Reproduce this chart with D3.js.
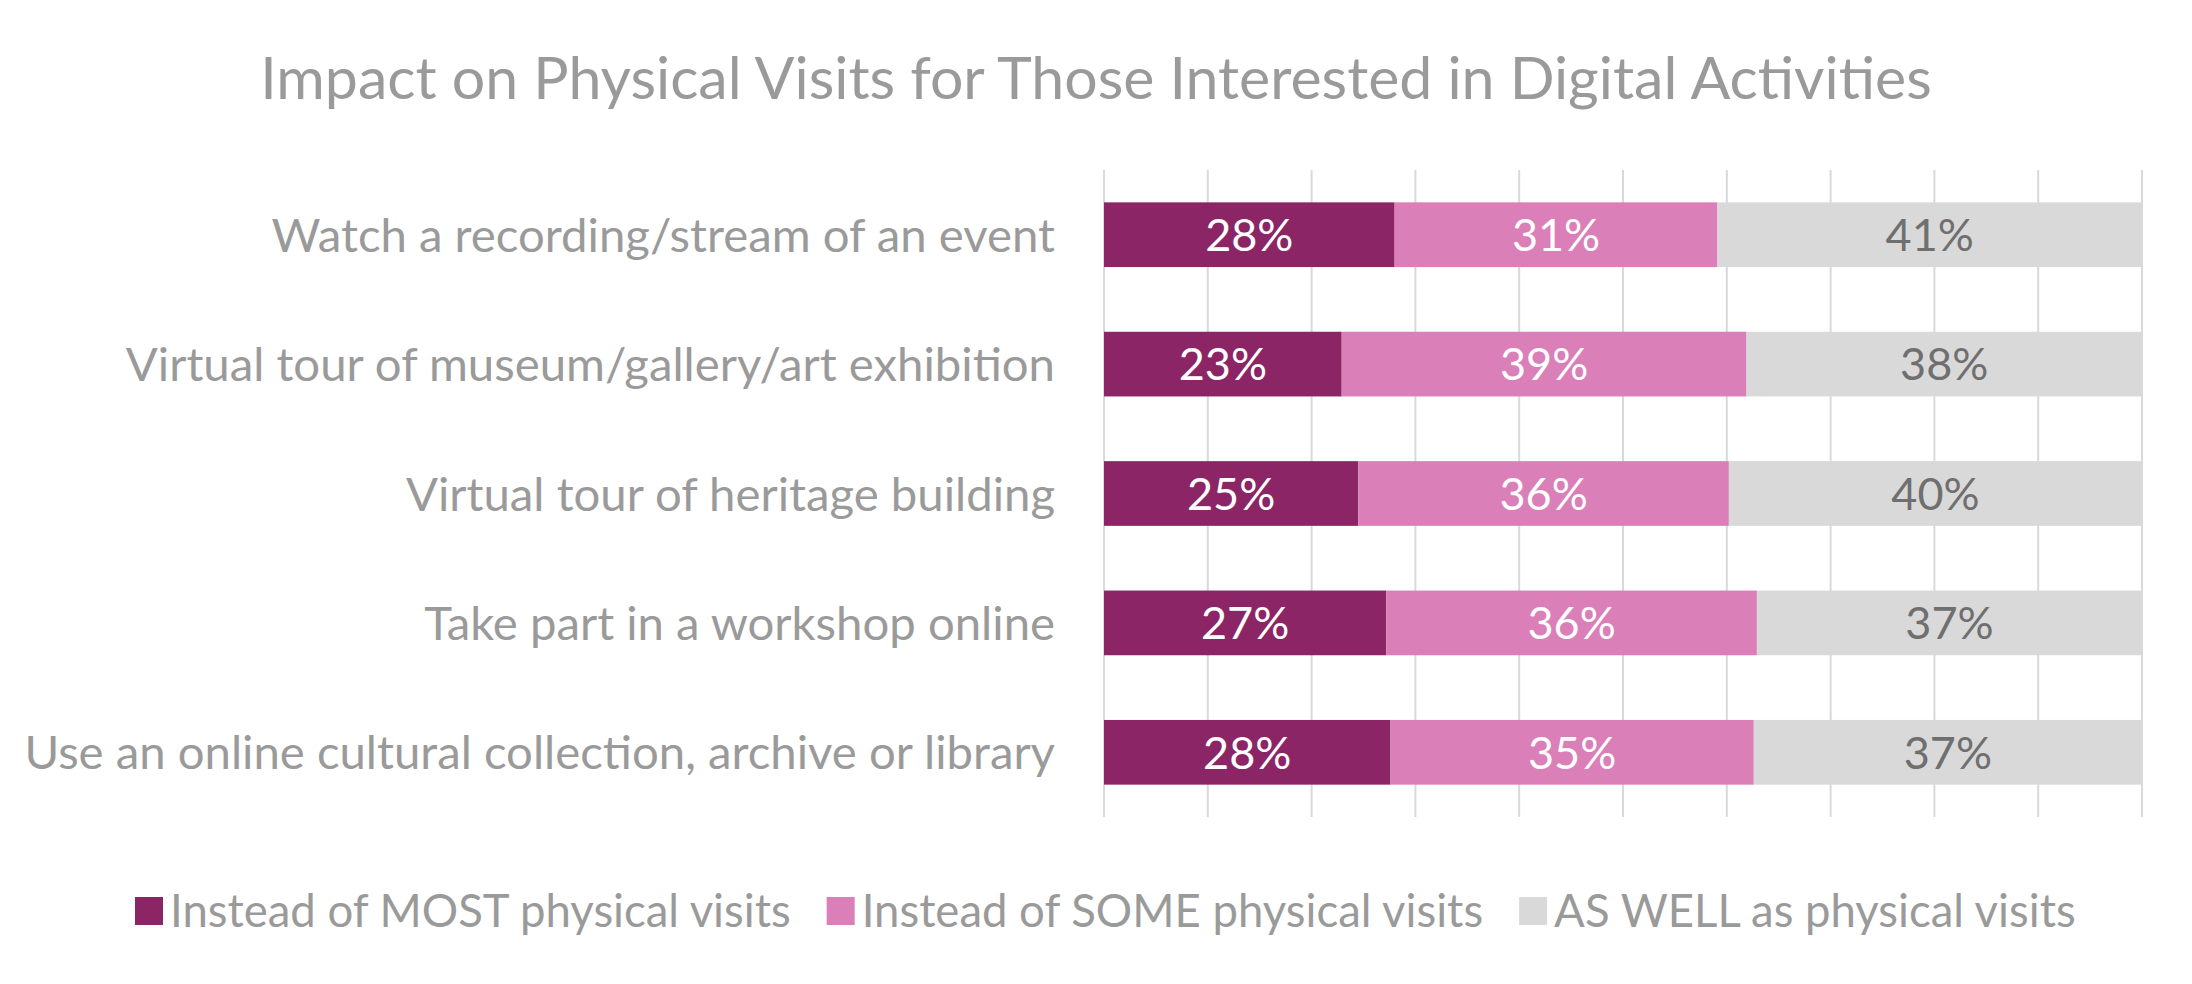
<!DOCTYPE html>
<html><head><meta charset="utf-8">
<script src="https://cdn.jsdelivr.net/npm/d3@7"></script>
<style>body{margin:0;background:#fff}svg text{font-family:Lato,"Open Sans",sans-serif}</style>
</head><body><svg id="c" width="2192" height="984"></svg>
<script>
const categories = [
  "Watch a recording/stream of an event",
  "Virtual tour of museum/gallery/art exhibition",
  "Virtual tour of heritage building",
  "Take part in a workshop online",
  "Use an online cultural collection, archive or library"
];
const seriesNames = ["Instead of MOST physical visits","Instead of SOME physical visits","AS WELL as physical visits"];
const mostValues = [28.0, 22.9, 24.5, 27.2, 27.6];
const someValues = [31.1, 39.0, 35.7, 35.7, 35.0];
const wellValues = [40.9, 38.1, 39.8, 37.1, 37.4];
const xTicks = [0,10,20,30,40,50,60,70,80,90,100];
const colors = ["#8B2565","#DA7FB8","#D9D9D9"];
const labelColors = ["#ffffff","#ffffff","#6f6f6f"];

(function(){
const svg = d3.select("#c");
const W = 2192;
const pLeft = 1104, pRight = 2142, pTop = 170, pBottom = 817;

const rows = categories.map((c,i)=>({cat:c, s0:mostValues[i], s1:someValues[i], s2:wellValues[i]}));
const stack = d3.stack().keys(["s0","s1","s2"]).offset(d3.stackOffsetExpand);
const series = stack(rows);

const x = d3.scaleLinear().domain([0,1]).range([pLeft,pRight]);
const y = d3.scaleBand().domain(categories).range([pTop,pBottom]).paddingInner(0.5).paddingOuter(0.25);

svg.append("text").attr("x", W/2).attr("y", 99).attr("text-anchor","middle")
  .attr("font-size", 59).attr("fill","#9a9a9a").text("Impact on Physical Visits for Those Interested in Digital Activities");

svg.append("g").selectAll("line").data(xTicks).join("line")
  .attr("x1", d=>x(d/100)).attr("x2", d=>x(d/100)).attr("y1", pTop).attr("y2", pBottom)
  .attr("stroke","#d9d9d9").attr("stroke-width",2);

const g = svg.append("g");
series.forEach((s,si)=>{
  g.append("g").selectAll("rect").data(s).join("rect")
    .attr("x", d=>x(d[0])).attr("width", d=>x(d[1])-x(d[0]))
    .attr("y", d=>y(d.data.cat)).attr("height", y.bandwidth())
    .attr("fill", colors[si]);
  const vals = [mostValues, someValues, wellValues][si];
  g.append("g").selectAll("text").data(s).join("text")
    .attr("x", d=>(x(d[0])+x(d[1]))/2).attr("y", d=>y(d.data.cat)+y.bandwidth()/2)
    .attr("dy","0.36em").attr("text-anchor","middle").attr("font-size",45)
    .attr("fill", labelColors[si]).text((d,i)=>Math.round(vals[i])+"%");
});

svg.append("g").selectAll("text").data(categories).join("text")
  .attr("x", 1055).attr("y", d=>y(d)+y.bandwidth()/2).attr("dy","0.36em")
  .attr("text-anchor","end").attr("font-size",47.3).attr("fill","#9a9a9a").text(d=>d);

const lg = svg.append("g");
let lx = 135;
seriesNames.forEach((n,i)=>{
  lg.append("rect").attr("x", lx).attr("y", 897).attr("width",28).attr("height",28).attr("fill",colors[i]);
  const t = lg.append("text").attr("x", lx+35).attr("y", 927).attr("font-size",45.5).attr("fill","#9a9a9a").text(n);
  lx += 35 + t.node().getComputedTextLength() + 36;
});
})();
</script></body></html>
